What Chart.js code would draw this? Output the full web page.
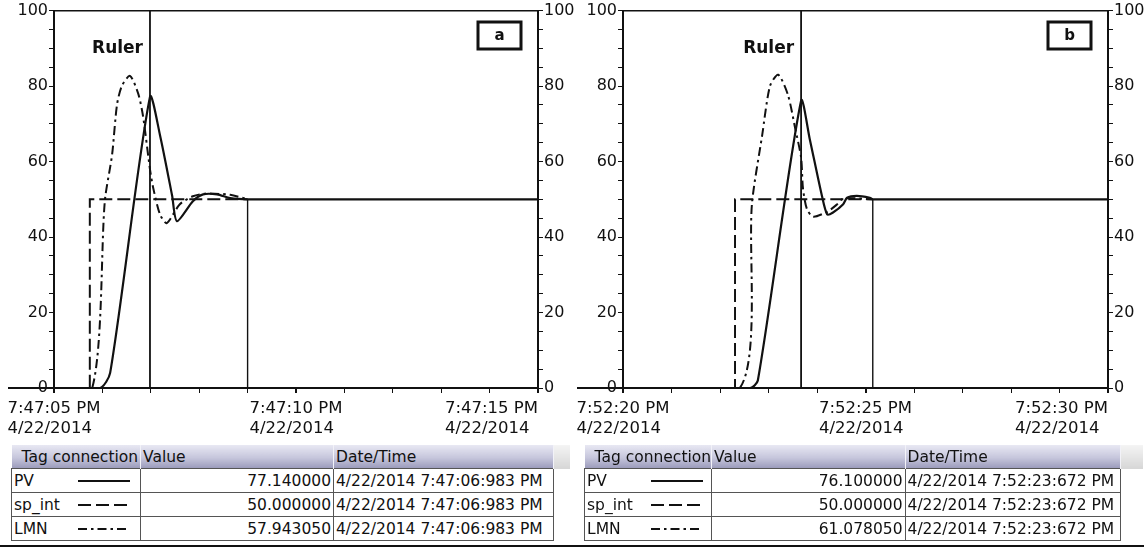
<!DOCTYPE html>
<html>
<head>
<meta charset="utf-8">
<title>PV / sp_int / LMN trends</title>
<script src="https://cdn.jsdelivr.net/npm/chart.js@4.4.1/dist/chart.umd.min.js"></script>
<style>
  html, body { margin: 0; padding: 0; background: #fff; }
  body { width: 1144px; height: 547px; position: relative; overflow: hidden; font-family: "DejaVu Sans", Verdana, sans-serif; color: #111; }
  .panel { position: absolute; top: 0; width: 572px; height: 547px; }
  #panelA { left: 0; }
  #panelB { left: 572px; }
  .panel canvas { position: absolute; left: 0; top: 0; }
  .tagTable { position: absolute; top: 445px; border-collapse: collapse; table-layout: fixed; font-size: 15.5px; }
  .tagTable th { height: 23px; padding: 0 0 0 2px; text-align: left; font-weight: normal; white-space: nowrap; overflow: hidden;
                 background: linear-gradient(#e8e8f3, #c6c6dc 55%, #9c9cbc); border-right: 1px solid #f2f2f8; }
  .tagTable th.first { padding-left: 10px; }
  .tagTable th.rest { background: linear-gradient(#f4f4f4, #d6d6d6); border-right: none; }
  .tagTable td { height: 23px; padding: 0 2px; border: 1px solid #555; white-space: nowrap; overflow: hidden; background: #fff; position: relative; }
  .tagTable td.val { text-align: right; }
  .tagTable td.rest { border: none; }
  .tagTable svg { position: absolute; left: 66px; top: 7px; }
  .bottomRule { position: absolute; left: 0; top: 545px; width: 1144px; height: 2px; background: #111; }
</style>
</head>
<body>
<div class="panel" id="panelA"><canvas id="chartA" width="580" height="442"></canvas></div>
<div class="panel" id="panelB"><canvas id="chartB" width="572" height="442"></canvas></div>
<div class="bottomRule"></div>
<script>
// x axis: seconds after the first tick, 10 s window
const majorTicks = [0, 5, 10];
const timeLabelsA = ['7:47:05 PM', '7:47:10 PM', '7:47:15 PM'];
const timeLabelsB = ['7:52:20 PM', '7:52:25 PM', '7:52:30 PM'];
const dateLabel = '4/22/2014';

// panel a (seconds after 7:47:05 PM)
const pvTimeA  = [0, 0.95, 1.16, 1.983, 2.19, 2.44, 2.54, 2.87, 3.08, 3.37, 3.64, 4.0, 10];
const pvValA   = [0, 0, 4, 77.14, 67, 51, 44.2, 49.5, 51.3, 51.3, 50.3, 50, 50];
const spTimeA  = [0, 0.74, 0.74, 4.0];
const spValA   = [0, 0, 50, 50];
const lmnTimeA = [0, 0.79, 1.05, 1.20, 1.30, 1.40, 1.57, 1.74, 1.84, 1.983, 2.05, 2.19, 2.33, 2.60, 2.87, 3.12, 3.64, 4.0];
const lmnValA  = [0, 0, 49.5, 61.8, 74.9, 80, 82.7, 78, 72, 57.94, 53, 46, 43.7, 48.7, 50.8, 51.5, 51.2, 50];
const rulerA = 1.983;
const endA = 4.0;

// panel b (seconds after 7:52:20 PM)
const pvTimeB  = [0, 2.62, 2.78, 3.672, 3.85, 4.10, 4.21, 4.33, 4.54, 4.62, 4.82, 5.09, 5.15, 10];
const pvValB   = [0, 0, 2, 76.1, 66, 51, 46, 46.5, 48.7, 50.4, 50.9, 50.4, 50, 50];
const spTimeB  = [0, 2.31, 2.31, 5.15];
const spValB   = [0, 0, 50, 50];
const lmnTimeB = [0, 2.41, 2.66, 2.87, 3.03, 3.20, 3.40, 3.55, 3.672, 3.71, 3.79, 3.92, 4.21, 4.41, 4.54, 5.15];
const lmnValB  = [0, 0, 49, 67, 80, 83, 77.7, 68.8, 61.08, 53, 47.5, 45.4, 46.7, 48.6, 50.2, 50];
const rulerB = 3.672;
const endB = 5.15;

// value table
const tagNames = ['PV', 'sp_int', 'LMN'];
const valuesA = ['77.140000', '50.000000', '57.943050'];
const valuesB = ['76.100000', '50.000000', '61.078050'];
const stampA = '4/22/2014 7:47:06:983 PM';
const stampB = '4/22/2014 7:52:23:672 PM';

const ink = '#111';
const tagDash = [[], [13, 5], [9, 4, 2.5, 4]];
const fontFamily = '"DejaVu Sans", Verdana, sans-serif';

Chart.defaults.font.family = fontFamily;
Chart.defaults.color = ink;

function toPoints(ts, vs) {
    return ts.map((t, i) => ({ x: t, y: vs[i] }));
}

// labels, ruler caption, panel letter and the axis stub left of the y axis
const overlay = {
    id: 'overlay',
    afterDraw(chart, args, opts) {
        const ctx = chart.ctx;
        const area = chart.chartArea;
        const xs = chart.scales.x;
        ctx.save();
        ctx.fillStyle = ink;
        ctx.strokeStyle = ink;

        ctx.lineWidth = 2;
        ctx.beginPath();
        ctx.moveTo(area.left - 46, area.bottom);
        ctx.lineTo(area.left, area.bottom);
        ctx.stroke();

        ctx.font = '16.5px ' + fontFamily;
        ctx.textAlign = 'left';
        ctx.textBaseline = 'alphabetic';
        majorTicks.forEach((v, i) => {
            const px = xs.getPixelForValue(v);
            const w = ctx.measureText(opts.labels[i]).width;
            const left = i === majorTicks.length - 1 ? px - w : px - w / 2;
            ctx.fillText(opts.labels[i], left, 413);
            ctx.fillText(dateLabel, left, 433);
        });

        const rx = xs.getPixelForValue(opts.ruler);
        ctx.font = 'bold 17px ' + fontFamily;
        ctx.textAlign = 'right';
        ctx.fillText('Ruler', rx - 7, 53);

        const bx = area.right - 60, by = 22, bw = 43, bh = 27;
        ctx.lineWidth = 3;
        ctx.strokeRect(bx, by, bw, bh);
        ctx.font = 'bold 15px ' + fontFamily;
        ctx.textAlign = 'center';
        ctx.textBaseline = 'middle';
        ctx.fillText(opts.letter, bx + bw / 2, by + bh / 2 + 1);
        ctx.restore();
    }
};

function yAxis(position, width) {
    return {
        type: 'linear', position: position, min: 0, max: 100,
        afterFit: s => { s.width = width; },
        ticks: {
            stepSize: 5, autoSkip: false, padding: 1,
            font: { size: 16 },
            callback: v => (v % 20 === 0 ? v : '')
        },
        grid: { drawOnChartArea: false, tickLength: 5, color: ink },
        border: { color: ink, width: 2 }
    };
}

function makeChart(id, series, ruler, end, labels, letter, leftW, rightW) {
    const datasets = series.map((s, i) => ({
        label: tagNames[i],
        data: toPoints(s[0], s[1]),
        borderColor: ink,
        borderWidth: i === 0 ? 2.2 : 2,
        borderDash: tagDash[i],
        pointRadius: 0,
        tension: i === 1 ? 0 : 0.25,
        fill: false
    }));
    datasets.push({ label: 'ruler', data: [{ x: ruler, y: 0 }, { x: ruler, y: 100 }],
        borderColor: ink, borderWidth: 1.8, pointRadius: 0 });
    datasets.push({ label: 'end', data: [{ x: end, y: 50 }, { x: end, y: 0 }],
        borderColor: ink, borderWidth: 1.4, pointRadius: 0 });

    return new Chart(document.getElementById(id), {
        type: 'line',
        data: { datasets: datasets },
        options: {
            responsive: false,
            animation: false,
            layout: { padding: 0 },
            plugins: {
                legend: { display: false },
                tooltip: { enabled: false },
                overlay: { labels: labels, ruler: ruler, letter: letter }
            },
            scales: {
                x: {
                    type: 'linear', position: 'bottom', min: 0, max: 10,
                    afterFit: s => { s.height = 54; },
                    ticks: { stepSize: 1, autoSkip: false, display: false },
                    grid: { drawOnChartArea: false, tickLength: 5, color: ink,
                            lineWidth: c => (c.tick && c.tick.value % 5 === 0 ? 2 : 1) },
                    border: { color: ink, width: 2 }
                },
                xTop: {
                    type: 'linear', position: 'top', min: 0, max: 10,
                    afterFit: s => { s.height = 7; },
                    ticks: { display: false },
                    grid: { display: false },
                    border: { color: ink, width: 1.5 }
                },
                y: yAxis('left', leftW),
                y2: yAxis('right', rightW)
            }
        },
        plugins: [overlay]
    });
}

makeChart('chartA', [[pvTimeA, pvValA], [spTimeA, spValA], [lmnTimeA, lmnValA]],
    rulerA, endA, timeLabelsA, 'a', 54, 42);
makeChart('chartB', [[pvTimeB, pvValB], [spTimeB, spValB], [lmnTimeB, lmnValB]],
    rulerB, endB, timeLabelsB, 'b', 51, 36);

// value table under each chart
function makeTable(panelId, left, cols, values, stamp) {
    const table = document.createElement('table');
    table.className = 'tagTable';
    table.style.left = left + 'px';
    const colgroup = document.createElement('colgroup');
    cols.forEach(w => {
        const c = document.createElement('col');
        c.style.width = w + 'px';
        colgroup.appendChild(c);
    });
    table.appendChild(colgroup);
    table.innerHTML += `
        <tr><th class="first">Tag connection</th><th>Value</th><th>Date/Time</th><th class="rest"></th></tr>`;
    tagNames.forEach((name, i) => {
        const dash = tagDash[i].join(',');
        table.innerHTML += `
            <tr>
                <td>${name}<svg width="52" height="10"><line x1="0" y1="5" x2="52" y2="5" stroke="${ink}" stroke-width="2" stroke-dasharray="${dash}"/></svg></td>
                <td class="val">${values[i]}</td>
                <td>${stamp}</td>
                <td class="rest"></td>
            </tr>`;
    });
    document.getElementById(panelId).appendChild(table);
}

makeTable('panelA', 11, [129, 193, 220, 17], valuesA, stampA);
makeTable('panelB', 12, [125, 196, 216, 23], valuesB, stampB);
</script>
</body>
</html>
